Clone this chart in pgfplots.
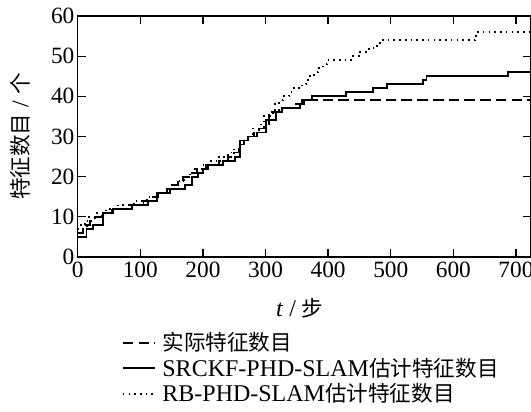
\documentclass[border=0pt]{standalone}
\usepackage{pgfplots}
\pgfplotsset{compat=1.18}
\usepackage{fontspec}
\setmainfont{Liberation Serif}
\newfontfamily\cjk[Scale=0.9]{Noto Sans CJK SC}
\begin{document}
\begin{tikzpicture}
\useasboundingbox (-58.3pt,-116.25pt) rectangle (340pt,192.75pt);
\begin{axis}[
  at={(0,0)}, anchor=south west,
  scale only axis, width=340pt, height=180.75pt,
  xmin=0, xmax=724, ymin=0, ymax=60,
  xtick={0,100,...,700}, ytick={0,10,...,60},
  tick align=inside, major tick length=6pt,
  xtick pos=both, ytick pos=both,
  axis line style={line width=1pt},
  every tick/.style={line width=1pt, black},
  /pgf/number format/assume math mode=true,
  tick label style={font=\fontsize{17.5}{20}\selectfont},
  yticklabel style={xshift=1pt},
  xlabel={\textit{t} / {\cjk 步}},
  ylabel={{\cjk 特征数目} / {\cjk 个}},
  label style={font=\fontsize{18}{20}\selectfont},
  xlabel style={at={(axis description cs:0.49,-0.212)}, anchor=center},
  ylabel style={at={(axis description cs:-0.127,0.5)}, anchor=center},
  legend style={at={(axis description cs:0.088,-0.29)}, anchor=north west,
    draw=none, fill=none, font=\fontsize{18}{20.5}\selectfont, row sep=0pt},
  legend cell align=left,
  legend image code/.code={\draw[#1] (0pt,0pt) -- (24pt,0pt); \path (27pt,0pt);},
]
\addplot[const plot, black, line width=1.4pt, dash pattern=on 8pt off 3.8pt] coordinates {
(0,6)(8,7)(15,8)(20,9)(28,10)(38,11)(55,12)(80,13)(105,14)(118,15)(128,16)(143,17)(152,18)(160,19)(168,20)(178,21)(190,22)(205,23)(225,24)(240,25)(250,26)(258,28)(265,29)(272,30)(282,31)(290,32)(298,33)(305,35)(312,36)(322,37)(345,38)(358,39)(724,39)};
\addlegendentry{\cjk 实际特征数目}
\addplot[const plot, black, line width=1.4pt] coordinates {
(0,5)(14,7)(25,8)(41,11)(57,12)(87,13)(112,14)(126,16)(148,17)(172,18)(182,20)(192,21)(200,22)(208,23)(232,24)(251,25)(259,29)(272,30)(286,31)(301,34)(316,36)(326,37)(355,38)(362,39)(374,40)(428,41)(471,42)(494,43)(551,44)(557,45)(687,46)(724,46)};
\addlegendentry{SRCKF-PHD-SLAM{\cjk 估计特征数目}}
\addplot[const plot, black, line width=1.4pt, dash pattern=on 1.2pt off 3.1pt] coordinates {
(0,7)(5,8)(12,9)(18,10)(30,11)(45,12)(65,13)(90,14)(110,15)(128,16)(142,17)(150,18)(160,19)(170,20)(180,21)(188,22)(198,23)(210,24)(225,25)(240,26)(250,27)(258,28)(265,29)(272,30)(280,32)(290,33)(297,35)(305,36)(315,38)(322,39)(328,40)(338,41)(345,42)(358,43)(365,44)(371,45)(378,46)(384,47)(392,48)(398,49)(440,50)(451,51)(465,52)(478,53)(483,54)(630,54)(635,55)(640,56)(724,56)};
\addlegendentry{RB-PHD-SLAM{\cjk 估计特征数目}}
\end{axis}
\end{tikzpicture}
\end{document}
